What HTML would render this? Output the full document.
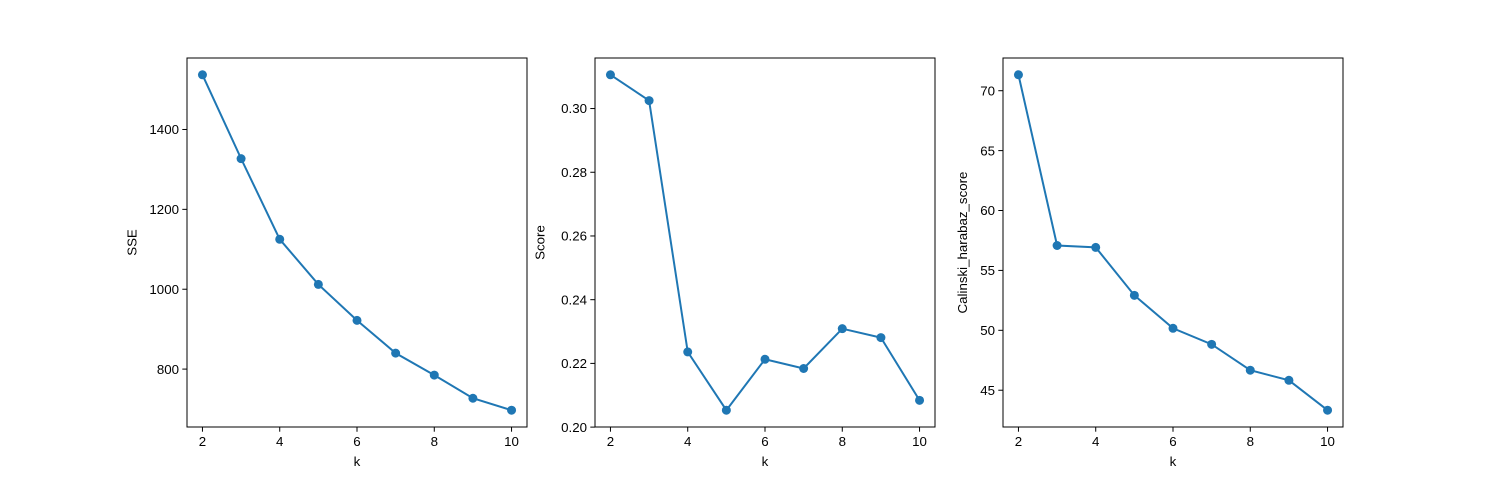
<!DOCTYPE html>
<html><head><meta charset="utf-8">
<style>
html,body{margin:0;padding:0;background:#fff;}
svg{display:block;font-family:"Liberation Sans","DejaVu Sans",sans-serif;}
</style></head>
<body>
<svg id="fig" width="1492" height="480"></svg>
<script>
const kValues = [2,3,4,5,6,7,8,9,10];
const sseValues = [1537,1327,1125,1012,922,840,785,727,697];
const scoreValues = [0.3106,0.3025,0.2236,0.2053,0.2213,0.2184,0.2309,0.2281,0.2084];
const chValues = [71.33,57.08,56.92,52.92,50.17,48.83,46.67,45.83,43.33];
const xTicks = [2,4,6,8,10];
const sseTicks = [800,1000,1200,1400];
const scoreTicks = [0.20,0.22,0.24,0.26,0.28,0.30];
const chTicks = [45,50,55,60,65,70];

const NS="http://www.w3.org/2000/svg";
const svg=document.getElementById('fig');
function el(tag,attrs,parent){const e=document.createElementNS(NS,tag);for(const k in attrs)e.setAttribute(k,attrs[k]);(parent||svg).appendChild(e);return e;}

function panel(name,left,vals,yTicks,yLabel,fmt){
  const top=58,bottom=427,right=left+340;
  const g=el('g',{});
  
  
  const xmin=1.6,xmax=10.4;
  const mn=Math.min(...vals),mx=Math.max(...vals),pad=(mx-mn)*0.05;
  const ymin=mn-pad,ymax=mx+pad;
  const sx=v=>left+(v-xmin)/(xmax-xmin)*(right-left);
  const sy=v=>bottom-(v-ymin)/(ymax-ymin)*(bottom-top);
  const frame=el('rect',{x:left,y:top,width:right-left,height:bottom-top,fill:'none',stroke:'#000','stroke-width':1},g);
  
  
  xTicks.forEach(t=>{
    const x=sx(t);
    el('line',{x1:x,x2:x,y1:bottom,y2:bottom+4.7,stroke:'#000'},g);
    const tx=el('text',{x:x,y:bottom+19,'text-anchor':'middle','font-size':13.3},g);
    tx.textContent=t;
    
    
  });
  yTicks.forEach(t=>{
    const y=sy(t);
    if(y<top-0.5||y>bottom+0.5)return;
    el('line',{x1:left-4.7,x2:left,y1:y,y2:y,stroke:'#000'},g);
    const tx=el('text',{x:left-8,y:y+4.7,'text-anchor':'end','font-size':13.3},g);
    tx.textContent=fmt(t);
    
    
  });
  const xl=el('text',{x:(left+right)/2,y:bottom+39,'text-anchor':'middle','font-size':13.3},g);
  xl.textContent='k';
  
  
  const maxW=Math.max(...yTicks.map(t=>fmt(t).length))*7.4;
  const lx=left-8-maxW-13;
  const yl=el('text',{x:lx,y:(top+bottom)/2,'text-anchor':'middle','font-size':13.3,transform:`rotate(-90 ${lx} ${(top+bottom)/2})`},g);
  yl.textContent=yLabel;
  
  
  const pts=kValues.map((k,i)=>sx(k)+','+sy(vals[i])).join(' ');
  const line=el('polyline',{points:pts,fill:'none',stroke:'#1f77b4','stroke-width':2},g);
  
  
  kValues.forEach((k,i)=>{
    const c=el('circle',{cx:sx(k),cy:sy(vals[i]),r:4.5,fill:'#1f77b4'},g);
    
    
  });
}
panel('sse',187,sseValues,sseTicks,'SSE',t=>String(t));
panel('score',595,scoreValues,scoreTicks,'Score',t=>t.toFixed(2));
panel('calinski',1003,chValues,chTicks,'Calinski_harabaz_score',t=>String(t));
</script>
</body></html>
